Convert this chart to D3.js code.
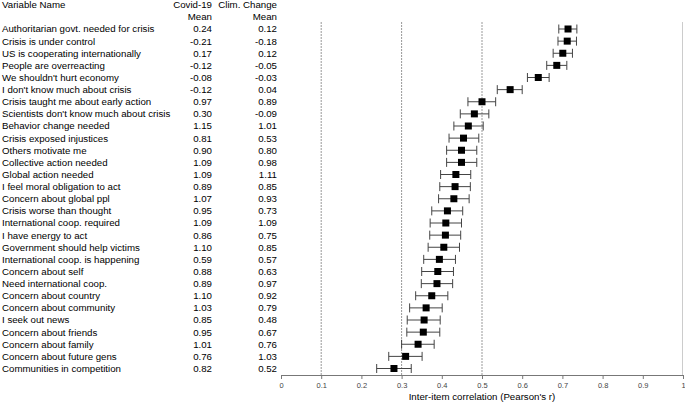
<!DOCTYPE html>
<html>
<head>
<meta charset="utf-8">
<script src="https://cdn.jsdelivr.net/npm/d3@7"></script>
<style>
  body { margin: 0; background: #fff; }
  svg { font-family: "Liberation Sans", Arial, sans-serif; }
</style>
</head>
<body>
<div id="chart"></div>
<script>
// Variable names, top to bottom
const names = [
  'Authoritarian govt. needed for crisis', 'Crisis is under control', 'US is cooperating internationally',
  'People are overreacting', "We shouldn't hurt economy", "I don't know much about crisis",
  'Crisis taught me about early action', "Scientists don't know much about crisis", 'Behavior change needed',
  'Crisis exposed injustices', 'Others motivate me', 'Collective action needed', 'Global action needed',
  'I feel moral obligation to act', 'Concern about global ppl', 'Crisis worse than thought',
  'International coop. required', 'I have energy to act', 'Government should help victims',
  'International coop. is happening', 'Concern about self', 'Need international coop.',
  'Concern about country', 'Concern about community', 'I seek out news', 'Concern about friends',
  'Concern about family', 'Concern about future gens', 'Communities in competition'
];

// Means shown in the table columns
const covidMean = ['0.24', '-0.21', '0.17', '-0.12', '-0.08', '-0.12', '0.97', '0.30', '1.15', '0.81',
  '0.90', '1.09', '1.09', '0.89', '1.07', '0.95', '1.09', '0.86', '1.10', '0.59', '0.88', '0.89',
  '1.10', '1.03', '0.85', '0.95', '1.01', '0.76', '0.82'];
const climMean = ['0.12', '-0.18', '0.12', '-0.05', '-0.03', '0.04', '0.89', '-0.09', '1.01', '0.53',
  '0.80', '0.98', '1.11', '0.85', '0.93', '0.73', '1.09', '0.75', '0.85', '0.57', '0.63', '0.97',
  '0.92', '0.79', '0.48', '0.67', '0.76', '1.03', '0.52'];

// Inter-item correlation with confidence interval
const corr = [0.714, 0.712, 0.701, 0.686, 0.640, 0.570, 0.500, 0.481, 0.466, 0.454, 0.449, 0.449,
  0.435, 0.433, 0.430, 0.414, 0.410, 0.409, 0.405, 0.394, 0.390, 0.388, 0.375, 0.361, 0.356,
  0.354, 0.341, 0.310, 0.281];
const ciLow = [0.691, 0.689, 0.677, 0.661, 0.613, 0.538, 0.465, 0.446, 0.430, 0.418, 0.412, 0.412,
  0.397, 0.395, 0.392, 0.375, 0.371, 0.370, 0.366, 0.355, 0.350, 0.349, 0.335, 0.320, 0.314,
  0.313, 0.300, 0.268, 0.238];
const ciHigh = [0.736, 0.735, 0.725, 0.711, 0.667, 0.600, 0.534, 0.517, 0.503, 0.492, 0.487, 0.487,
  0.472, 0.471, 0.468, 0.452, 0.449, 0.447, 0.444, 0.434, 0.429, 0.427, 0.415, 0.401, 0.396,
  0.395, 0.381, 0.351, 0.324];

const refLines = [0.1, 0.3, 0.5];
const xTicks = [0, 0.1, 0.2, 0.3, 0.4, 0.5, 0.6, 0.7, 0.8, 0.9, 1];

const width = 685, height = 405;
const fontSize = 9.7;

const svg = d3.select('#chart').append('svg')
  .attr('width', width)
  .attr('height', height);

// Scales
const x = d3.scaleLinear().domain([0, 1]).range([281, 683]);
const y = d3.scalePoint().domain(d3.range(names.length)).range([29, 368.5]);

const plotTop = 22, plotBottom = 375;

// Header
const header = svg.append('g').attr('font-size', fontSize).attr('fill', '#000');
header.append('text').attr('x', 2).attr('y', 5).attr('dy', '0.35em').text('Variable Name');
header.append('text').attr('x', 212).attr('y', 5).attr('dy', '0.35em').attr('text-anchor', 'end').text('Covid-19');
header.append('text').attr('x', 212).attr('y', 17).attr('dy', '0.35em').attr('text-anchor', 'end').text('Mean');
header.append('text').attr('x', 277).attr('y', 5).attr('dy', '0.35em').attr('text-anchor', 'end').text('Clim. Change');
header.append('text').attr('x', 277).attr('y', 17).attr('dy', '0.35em').attr('text-anchor', 'end').text('Mean');

// Table rows
const rows = svg.append('g').attr('font-size', fontSize)
  .selectAll('g').data(names).join('g')
  .attr('transform', (d, i) => `translate(0,${y(i)})`);

rows.append('text').attr('x', 2).attr('dy', '0.35em').text(d => d);
rows.append('text').attr('x', 212).attr('dy', '0.35em').attr('text-anchor', 'end').text((d, i) => covidMean[i]);
rows.append('text').attr('x', 277).attr('dy', '0.35em').attr('text-anchor', 'end').text((d, i) => climMean[i]);

// Reference lines
svg.append('g').selectAll('line').data(refLines).join('line')
  .attr('x1', d => x(d)).attr('x2', d => x(d))
  .attr('y1', plotTop).attr('y2', plotBottom)
  .attr('stroke', '#999')
  .attr('stroke-width', 1)
  .attr('stroke-dasharray', '2,1');

// Right frame line
svg.append('line')
  .attr('x1', x(1) - 0.5).attr('x2', x(1) - 0.5)
  .attr('y1', plotTop).attr('y2', plotBottom)
  .attr('stroke', '#ccc');

// Error bars
const bars = svg.append('g').selectAll('g').data(corr).join('g')
  .attr('transform', (d, i) => `translate(0,${y(i)})`)
  .attr('stroke', '#444')
  .attr('stroke-width', 1);

bars.append('line')
  .attr('x1', (d, i) => x(ciLow[i])).attr('x2', (d, i) => x(ciHigh[i]))
  .attr('y1', 0).attr('y2', 0);
bars.append('line')
  .attr('x1', (d, i) => x(ciLow[i])).attr('x2', (d, i) => x(ciLow[i]))
  .attr('y1', -4.5).attr('y2', 4.5);
bars.append('line')
  .attr('x1', (d, i) => x(ciHigh[i])).attr('x2', (d, i) => x(ciHigh[i]))
  .attr('y1', -4.5).attr('y2', 4.5);

// Point markers
bars.append('rect')
  .attr('x', d => x(d) - 3.5)
  .attr('y', -3.5)
  .attr('width', 7).attr('height', 7)
  .attr('fill', '#000')
  .attr('stroke', 'none');

// X axis
const axis = svg.append('g')
  .attr('transform', `translate(0,${plotBottom})`)
  .call(d3.axisBottom(x).tickValues(xTicks).tickSize(4).tickPadding(4)
    .tickFormat(d => d === 0 || d === 1 ? d3.format('d')(d) : d3.format('.1f')(d)));
axis.select('.domain').attr('stroke', '#777');
axis.selectAll('.tick line').attr('stroke', '#777');
axis.selectAll('.tick text').attr('font-size', 7.5).attr('fill', '#444')
  .attr('font-family', '"Liberation Sans", Arial, sans-serif');

svg.append('text')
  .attr('x', x(0.5))
  .attr('y', 397)
  .attr('dy', '0.35em')
  .attr('text-anchor', 'middle')
  .attr('font-size', fontSize)
  .text("Inter-item correlation (Pearson's r)");
</script>
</body>
</html>
